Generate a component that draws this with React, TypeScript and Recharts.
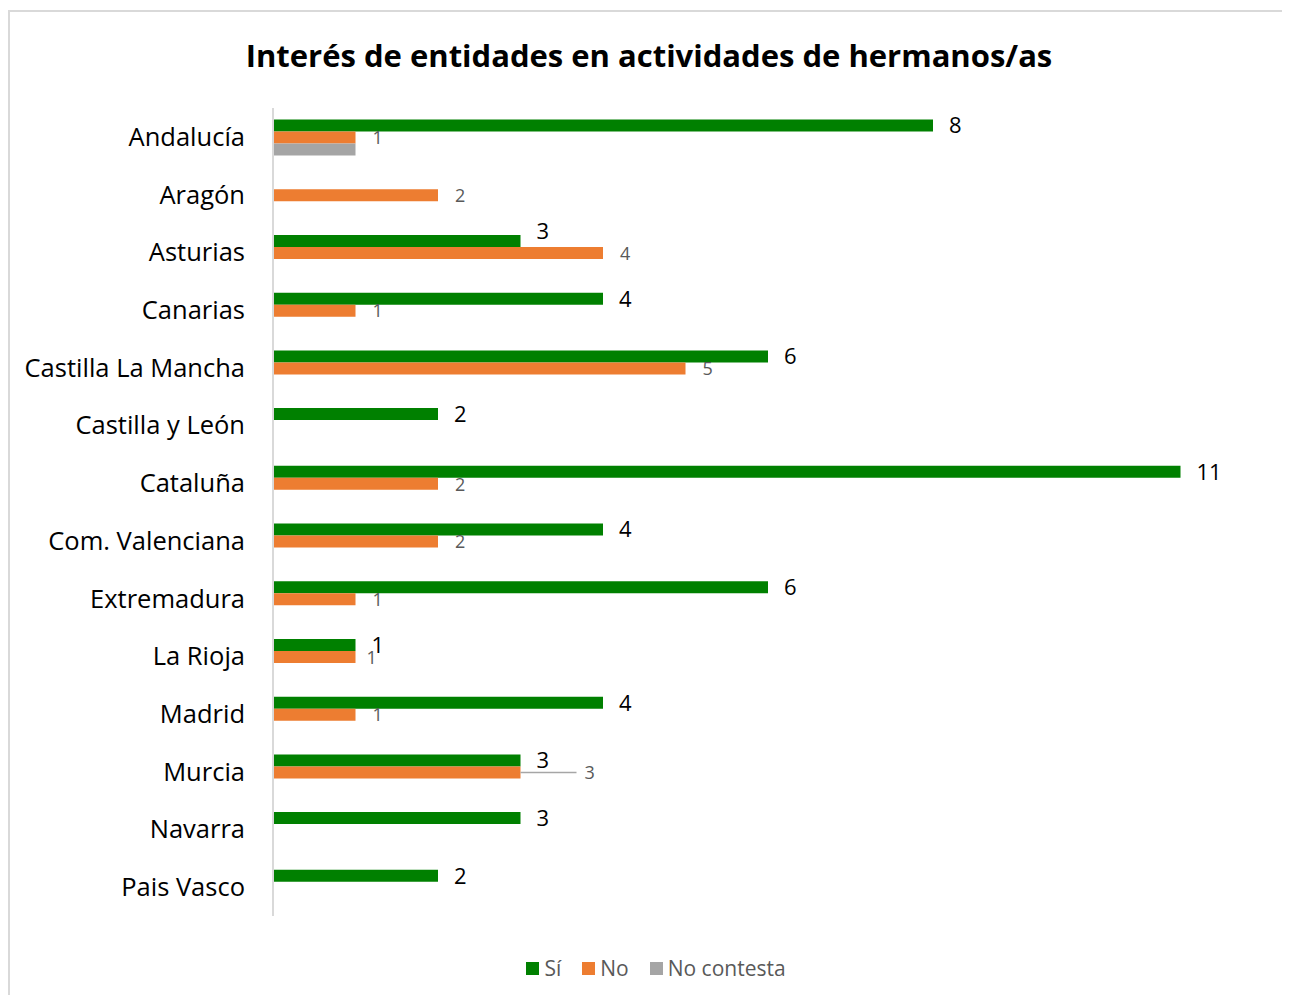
import { BarChart, Bar, XAxis, YAxis, LabelList } from 'recharts';

const regions = [
  'Andalucía',
  'Aragón',
  'Asturias',
  'Canarias',
  'Castilla La Mancha',
  'Castilla y León',
  'Cataluña',
  'Com. Valenciana',
  'Extremadura',
  'La Rioja',
  'Madrid',
  'Murcia',
  'Navarra',
  'Pais Vasco',
];
const si = [8, null, 3, 4, 6, 2, 11, 4, 6, 1, 4, 3, 3, 2];
const no = [1, 2, 4, 1, 5, null, 2, 2, 1, 1, 1, 3, null, null];
const noContesta = [1, null, null, null, null, null, null, null, null, null, null, null, null, null];

const COLORS = { si: '#008000', no: '#ED7D31', nc: '#A5A5A5' };
const FONT = '"Open Sans", Lato, sans-serif';

// labels the original chart moved by hand
const siLabelLift: Record<string, number> = { Asturias: -10 };
const noLabelShift: Record<string, number> = { 'La Rioja': -6, Murcia: 47 };
// LabelList only gets the drawn (non-empty) bars, so index into those
const siRegions = regions.filter((_, i) => si[i] != null);
const noRegions = regions.filter((_, i) => no[i] != null);

const data = regions.map((region, i) => ({
  region,
  si: si[i],
  no: no[i],
  nc: noContesta[i],
}));

function SiLabel(props: any) {
  const { x, y, width, height, value, index } = props;
  if (value == null) return null;
  const lift = siLabelLift[siRegions[index]] || 0;
  return (
    <text
      x={x + width + 16}
      y={y + height / 2 + 2 + lift}
      fontSize={22}
      fontFamily={FONT}
      fill="#000"
      dominantBaseline="middle"
    >
      {value}
    </text>
  );
}

function NoLabel(props: any) {
  const { x, y, width, height, value, index } = props;
  if (value == null) return null;
  const shift = noLabelShift[noRegions[index]] || 0;
  const end = x + width;
  const cy = y + height / 2;
  return (
    <g>
      {shift > 20 && (
        <line x1={end} y1={cy} x2={end + shift + 9} y2={cy} stroke="#A6A6A6" strokeWidth={1.5} />
      )}
      <text
        x={end + 17 + shift}
        y={cy + 2}
        fontSize={18}
        fontFamily={FONT}
        fill="#595959"
        dominantBaseline="middle"
      >
        {value}
      </text>
    </g>
  );
}

const legendItems = [
  { name: 'Sí', color: COLORS.si },
  { name: 'No', color: COLORS.no },
  { name: 'No contesta', color: COLORS.nc },
];

export default function App() {
  return (
    <div style={{ position: 'relative', top: 2, width: 1282, height: 987, fontFamily: FONT }}>
      <style>{'html,body{overflow:hidden}'}</style>
      <div
        style={{
          position: 'absolute',
          left: 0,
          top: 0,
          width: 1282,
          height: 987,
          borderLeft: '2px solid #d9d9d9',
          borderTop: '2px solid #d9d9d9',
          boxSizing: 'border-box',
        }}
      />
      <div
        style={{
          position: 'absolute',
          left: 0,
          width: 1282,
          top: 24,
          textAlign: 'center',
          fontSize: 31,
          fontWeight: 700,
          color: '#000',
          lineHeight: '42px',
        }}
      >
        Interés de entidades en actividades de hermanos/as
      </div>
      <div style={{ position: 'absolute', left: 0, top: 0 }}>
        <BarChart
          width={1282}
          height={987}
          data={data}
          layout="vertical"
          margin={{ top: 98, right: 27, bottom: 81, left: 0 }}
          barCategoryGap="20%"
          barGap={0}
        >
          <XAxis type="number" domain={[0, 12]} hide />
          <YAxis
            type="category"
            dataKey="region"
            width={265}
            axisLine={{ stroke: '#d9d9d9', strokeWidth: 2 }}
            tickLine={false}
            tickSize={0}
            tickMargin={28}
            tick={{ fontSize: 25.5, fill: '#000', fontFamily: FONT }}
            interval={0}
          />
          <Bar dataKey="si" name="Sí" fill={COLORS.si} isAnimationActive={false}>
            <LabelList dataKey="si" content={SiLabel} />
          </Bar>
          <Bar dataKey="no" name="No" fill={COLORS.no} isAnimationActive={false}>
            <LabelList dataKey="no" content={NoLabel} />
          </Bar>
          <Bar dataKey="nc" name="No contesta" fill={COLORS.nc} isAnimationActive={false} />
        </BarChart>
      </div>
      <div
        style={{
          position: 'absolute',
          left: 7,
          width: 1282,
          top: 945,
          display: 'flex',
          justifyContent: 'center',
          alignItems: 'center',
          gap: 21,
          fontSize: 21,
          color: '#595959',
          lineHeight: '26px',
        }}
      >
        {legendItems.map((it) => (
          <div key={it.name} style={{ display: 'flex', alignItems: 'center' }}>
            <span style={{ width: 13, height: 13, background: it.color, marginRight: 5, display: 'inline-block' }} />
            <span>{it.name}</span>
          </div>
        ))}
      </div>
    </div>
  );
}
